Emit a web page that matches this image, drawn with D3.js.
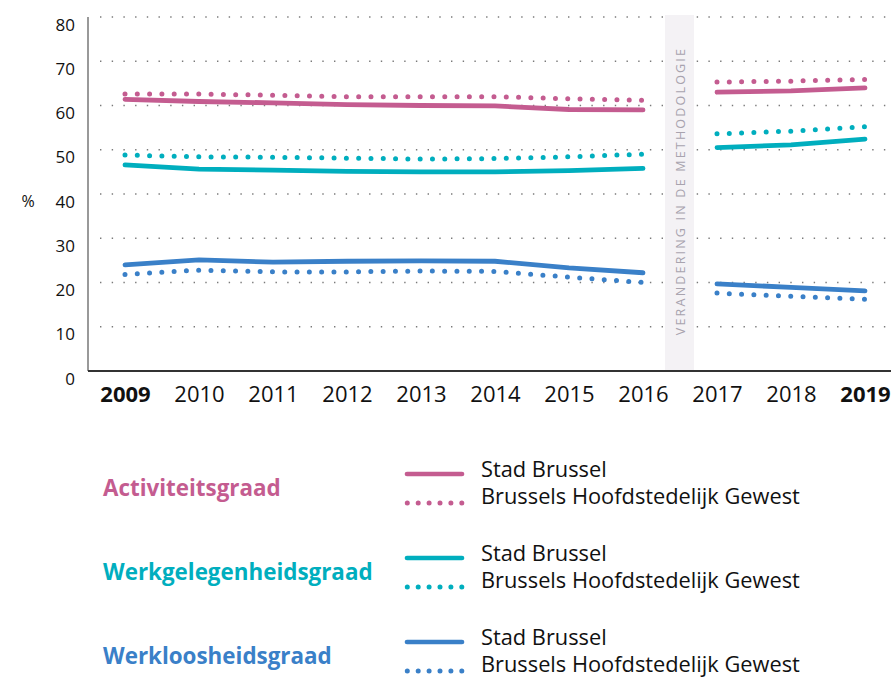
<!DOCTYPE html>
<html>
<head>
<meta charset="utf-8">
<script src="https://cdn.jsdelivr.net/npm/d3@7"></script>
<style>
  body { margin: 0; background: #fff; }
  svg { display: block; font-family: "Open Sans", "Noto Sans", sans-serif; }
</style>
</head>
<body>
<div id="chart-area"></div>
<script>
    // data
    var years = [2009, 2010, 2011, 2012, 2013, 2014, 2015, 2016, 2017, 2018, 2019];
    var boldYears = [2009, 2019];
    var yTicks = [0, 10, 20, 30, 40, 50, 60, 70, 80];

    var actStad   = [61.4, 60.9, 60.6, 60.2, 60.0, 59.9, 59.1, 59.0, 63.0, 63.3, 64.0];
    var actGewest = [62.6, 62.6, 62.3, 62.0, 62.0, 62.0, 61.5, 61.2, 65.3, 65.5, 65.9];
    var werkStad   = [46.6, 45.6, 45.4, 45.1, 45.0, 45.0, 45.3, 45.8, 50.5, 51.1, 52.4];
    var werkGewest = [48.8, 48.4, 48.3, 48.1, 47.9, 48.0, 48.4, 49.0, 53.6, 54.2, 55.2];
    var loosStad   = [24.0, 25.1, 24.6, 24.8, 24.9, 24.8, 23.3, 22.2, 19.7, 18.9, 18.1];
    var loosGewest = [21.8, 22.8, 22.4, 22.4, 22.6, 22.5, 21.2, 20.0, 17.6, 16.9, 16.2];

    var groups = [
      { name: "Activiteitsgraad", color: "#c45c90", stad: actStad, gewest: actGewest },
      { name: "Werkgelegenheidsgraad", color: "#00aebe", stad: werkStad, gewest: werkGewest },
      { name: "Werkloosheidsgraad", color: "#3a80c8", stad: loosStad, gewest: loosGewest }
    ];
    var seriesLabels = ["Stad Brussel", "Brussels Hoofdstedelijk Gewest"];
    var breakAfter = 2016; // methodology change
    var noteText = "VERANDERING IN DE METHODOLOGIE";

    var width = 891, height = 678;

    var svg = d3.select("#chart-area")
      .append("svg")
        .attr("width", width)
        .attr("height", height);

    var x = d3.scaleLinear().domain([2009, 2019]).range([125, 865]);
    var y = d3.scaleLinear().domain([0, 80]).range([371, 17]);

    // dotted grid
    svg.append("g").selectAll("line")
      .data(yTicks.filter(function(d){ return d > 0; }))
      .enter().append("line")
        .attr("x1", 100).attr("x2", 891)
        .attr("y1", function(d){ return y(d); })
        .attr("y2", function(d){ return y(d); })
        .attr("stroke", "#7a7a7a")
        .attr("stroke-width", 1.4)
        .attr("stroke-dasharray", "1.4 10.3");

    // methodology band
    var bandX = (x(breakAfter) + x(breakAfter + 1)) / 2;
    svg.append("rect")
      .attr("x", bandX - 15).attr("y", 15)
      .attr("width", 29).attr("height", y(0) - 15)
      .attr("fill", "#f4f2f5");
    svg.append("text")
      .attr("transform", "translate(" + (bandX + 4.5) + ",191) rotate(-90)")
      .attr("text-anchor", "middle")
      .attr("font-size", "12.5px")
      .attr("letter-spacing", "2.2px")
      .attr("fill", "#a8a3ae")
      .text(noteText);

    // axes
    var yAxis = svg.append("g")
      .attr("transform", "translate(75,0)")
      .call(d3.axisLeft(y).tickValues(yTicks).tickSize(0).tickPadding(0));
    yAxis.select(".domain").remove();
    yAxis.selectAll("text")
      .attr("dy", null)
      .attr("y", 13)
      .attr("font-size", "17px")
      .attr("font-family", "Open Sans, sans-serif")
      .attr("fill", "#111");

    var xAxis = svg.append("g")
      .attr("transform", "translate(0," + y(0) + ")")
      .call(d3.axisBottom(x).tickValues(years).tickFormat(d3.format("d")).tickSize(0).tickPadding(0));
    xAxis.select(".domain").remove();
    xAxis.selectAll("text")
      .attr("dy", null)
      .attr("y", 31)
      .attr("font-size", "22px")
      .attr("font-family", "Open Sans, sans-serif")
      .attr("fill", "#111")
      .attr("font-weight", function(d){ return boldYears.indexOf(d) >= 0 ? "bold" : "normal"; });

    svg.append("line")
      .attr("x1", 88).attr("x2", 88).attr("y1", 17).attr("y2", y(0))
      .attr("stroke", "#777").attr("stroke-width", 1.5);
    svg.append("line")
      .attr("x1", 88).attr("x2", 891).attr("y1", y(0)).attr("y2", y(0))
      .attr("stroke", "#333").attr("stroke-width", 1.8);

    svg.append("text")
      .attr("x", 28).attr("y", 207)
      .attr("text-anchor", "middle")
      .attr("font-size", "16px")
      .attr("fill", "#111")
      .text("%");

    // lines
    var line = d3.line()
      .x(function(d){ return x(d.year); })
      .y(function(d){ return y(d.value); });

    function segments(values) {
      var pts = years.map(function(yr, i){ return { year: yr, value: values[i] }; });
      return [pts.filter(function(d){ return d.year <= breakAfter; }),
              pts.filter(function(d){ return d.year > breakAfter; })];
    }

    groups.forEach(function(g){
      segments(g.gewest).forEach(function(seg){
        svg.append("path")
          .attr("d", line(seg))
          .attr("fill", "none")
          .attr("stroke", g.color)
          .attr("stroke-width", 5)
          .attr("stroke-linecap", "round")
          .attr("stroke-dasharray", "0 12.3");
      });
      segments(g.stad).forEach(function(seg){
        svg.append("path")
          .attr("d", line(seg))
          .attr("fill", "none")
          .attr("stroke", g.color)
          .attr("stroke-width", 4.8)
          .attr("stroke-linecap", "round");
      });
    });

    // legend
    var legend = svg.append("g");
    groups.forEach(function(g, i){
      var top = 474 + i * 84;
      legend.append("text")
        .attr("x", 103).attr("y", top + 22)
        .attr("font-size", "22.4px")
        .attr("font-weight", "bold")
        .attr("fill", g.color)
        .text(g.name);
      legend.append("line")
        .attr("x1", 407).attr("x2", 462).attr("y1", top).attr("y2", top)
        .attr("stroke", g.color).attr("stroke-width", 4.7)
        .attr("stroke-linecap", "round");
      legend.append("line")
        .attr("x1", 407.3).attr("x2", 463).attr("y1", top + 29).attr("y2", top + 29)
        .attr("stroke", g.color).attr("stroke-width", 5)
        .attr("stroke-linecap", "round")
        .attr("stroke-dasharray", "0 10.9");
      seriesLabels.forEach(function(s, j){
        legend.append("text")
          .attr("x", 481).attr("y", top + 3 + j * 27)
          .attr("font-size", "21.8px")
          .attr("fill", "#111")
          .text(s);
      });
    });
</script>
</body>
</html>
